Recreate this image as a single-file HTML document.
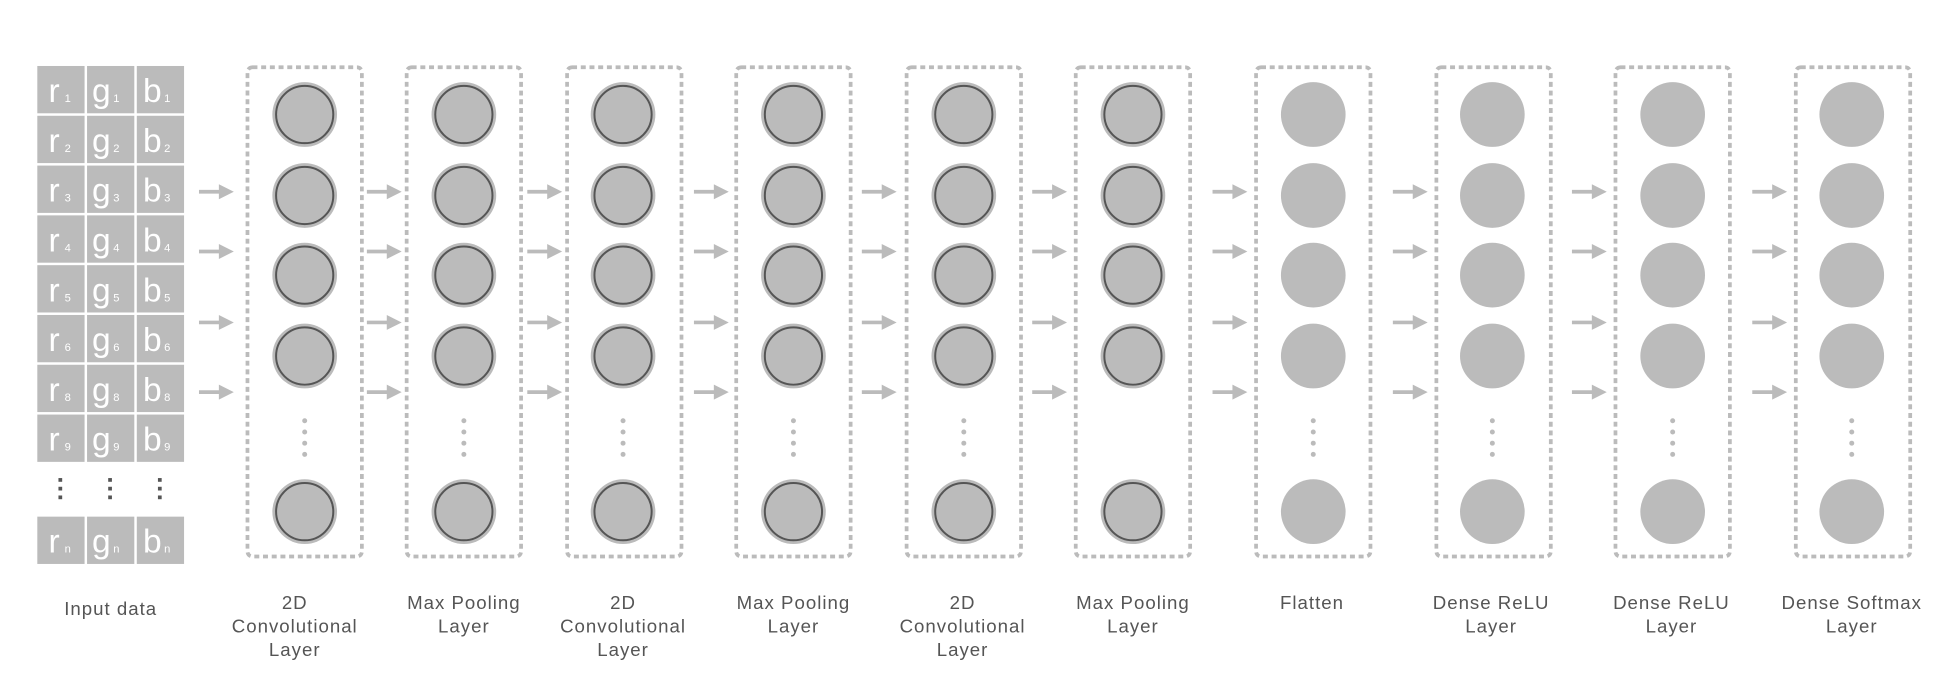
<!DOCTYPE html>
<html><head><meta charset="utf-8"><style>
html,body{margin:0;padding:0;background:#fff;}
svg{display:block;}
text{font-family:"Liberation Sans",sans-serif;}
</style></head><body>
<svg width="1950" height="676" viewBox="0 0 1568 543" preserveAspectRatio="none" xmlns="http://www.w3.org/2000/svg">
<defs>
<g id="rc"><circle r="26" fill="#bbbbbb"/><circle r="23" fill="#bbbbbb" stroke="#555" stroke-width="1.6"/></g>
<g id="pc"><circle r="26" fill="#bbbbbb"/></g>
<g id="ar"><line x1="0" y1="0" x2="18" y2="0" stroke="#bbb" stroke-width="3"/><polygon points="16,-6 28,0 16,6" fill="#bbb"/></g>
<g id="dots"><circle cx="0" cy="0" r="2" fill="#bbb"/><circle cx="0" cy="9" r="2" fill="#bbb"/><circle cx="0" cy="18" r="2" fill="#bbb"/><circle cx="0" cy="27" r="2" fill="#bbb"/></g>
</defs>
<g id="grid" font-size="28" fill="#fff"></g>
<script>
</script>
<!-- input grid -->
<g fill="#bbbbbb">
<rect x="30" y="53" width="38" height="38"/><rect x="70" y="53" width="38" height="38"/><rect x="110" y="53" width="38" height="38"/>
<rect x="30" y="93" width="38" height="38"/><rect x="70" y="93" width="38" height="38"/><rect x="110" y="93" width="38" height="38"/>
<rect x="30" y="133" width="38" height="38"/><rect x="70" y="133" width="38" height="38"/><rect x="110" y="133" width="38" height="38"/>
<rect x="30" y="173" width="38" height="38"/><rect x="70" y="173" width="38" height="38"/><rect x="110" y="173" width="38" height="38"/>
<rect x="30" y="213" width="38" height="38"/><rect x="70" y="213" width="38" height="38"/><rect x="110" y="213" width="38" height="38"/>
<rect x="30" y="253" width="38" height="38"/><rect x="70" y="253" width="38" height="38"/><rect x="110" y="253" width="38" height="38"/>
<rect x="30" y="293" width="38" height="38"/><rect x="70" y="293" width="38" height="38"/><rect x="110" y="293" width="38" height="38"/>
<rect x="30" y="333" width="38" height="38"/><rect x="70" y="333" width="38" height="38"/><rect x="110" y="333" width="38" height="38"/>
<rect x="30" y="415" width="38" height="38"/><rect x="70" y="415" width="38" height="38"/><rect x="110" y="415" width="38" height="38"/>
</g>
<g fill="#fff" font-size="27">
<text x="39" y="82">r<tspan font-size="9" dx="4">1</tspan></text><text x="74" y="82">g<tspan font-size="9" dx="2">1</tspan></text><text x="115" y="82">b<tspan font-size="9" dx="2">1</tspan></text>
<text x="39" y="122">r<tspan font-size="9" dx="4">2</tspan></text><text x="74" y="122">g<tspan font-size="9" dx="2">2</tspan></text><text x="115" y="122">b<tspan font-size="9" dx="2">2</tspan></text>
<text x="39" y="162">r<tspan font-size="9" dx="4">3</tspan></text><text x="74" y="162">g<tspan font-size="9" dx="2">3</tspan></text><text x="115" y="162">b<tspan font-size="9" dx="2">3</tspan></text>
<text x="39" y="202">r<tspan font-size="9" dx="4">4</tspan></text><text x="74" y="202">g<tspan font-size="9" dx="2">4</tspan></text><text x="115" y="202">b<tspan font-size="9" dx="2">4</tspan></text>
<text x="39" y="242">r<tspan font-size="9" dx="4">5</tspan></text><text x="74" y="242">g<tspan font-size="9" dx="2">5</tspan></text><text x="115" y="242">b<tspan font-size="9" dx="2">5</tspan></text>
<text x="39" y="282">r<tspan font-size="9" dx="4">6</tspan></text><text x="74" y="282">g<tspan font-size="9" dx="2">6</tspan></text><text x="115" y="282">b<tspan font-size="9" dx="2">6</tspan></text>
<text x="39" y="322">r<tspan font-size="9" dx="4">8</tspan></text><text x="74" y="322">g<tspan font-size="9" dx="2">8</tspan></text><text x="115" y="322">b<tspan font-size="9" dx="2">8</tspan></text>
<text x="39" y="362">r<tspan font-size="9" dx="4">9</tspan></text><text x="74" y="362">g<tspan font-size="9" dx="2">9</tspan></text><text x="115" y="362">b<tspan font-size="9" dx="2">9</tspan></text>
<text x="39" y="444">r<tspan font-size="9" dx="4">n</tspan></text><text x="74" y="444">g<tspan font-size="9" dx="2">n</tspan></text><text x="115" y="444">b<tspan font-size="9" dx="2">n</tspan></text>
</g>
<g fill="#555">
<rect x="47" y="384" width="3" height="3"/><rect x="47" y="391" width="3" height="3"/><rect x="47" y="398" width="3" height="3"/>
<rect x="87" y="384" width="3" height="3"/><rect x="87" y="391" width="3" height="3"/><rect x="87" y="398" width="3" height="3"/>
<rect x="127" y="384" width="3" height="3"/><rect x="127" y="391" width="3" height="3"/><rect x="127" y="398" width="3" height="3"/>
</g>

<!-- boxes -->
<g fill="none" stroke="#bbb" stroke-width="3" stroke-dasharray="4 3">
<rect x="199" y="54" width="92" height="393" rx="4"/>
<rect x="327" y="54" width="92" height="393" rx="4"/>
<rect x="456" y="54" width="92" height="393" rx="4"/>
<rect x="592" y="54" width="92" height="393" rx="4"/>
<rect x="729" y="54" width="92" height="393" rx="4"/>
<rect x="865" y="54" width="92" height="393" rx="4"/>
<rect x="1010" y="54" width="92" height="393" rx="4"/>
<rect x="1155" y="54" width="92" height="393" rx="4"/>
<rect x="1299" y="54" width="92" height="393" rx="4"/>
<rect x="1444" y="54" width="92" height="393" rx="4"/>
</g>

<!-- ringed circles -->
<g>
<use href="#rc" x="245" y="92"/><use href="#rc" x="245" y="157"/><use href="#rc" x="245" y="221"/><use href="#rc" x="245" y="286"/><use href="#rc" x="245" y="411"/>
<use href="#rc" x="373" y="92"/><use href="#rc" x="373" y="157"/><use href="#rc" x="373" y="221"/><use href="#rc" x="373" y="286"/><use href="#rc" x="373" y="411"/>
<use href="#rc" x="501" y="92"/><use href="#rc" x="501" y="157"/><use href="#rc" x="501" y="221"/><use href="#rc" x="501" y="286"/><use href="#rc" x="501" y="411"/>
<use href="#rc" x="638" y="92"/><use href="#rc" x="638" y="157"/><use href="#rc" x="638" y="221"/><use href="#rc" x="638" y="286"/><use href="#rc" x="638" y="411"/>
<use href="#rc" x="775" y="92"/><use href="#rc" x="775" y="157"/><use href="#rc" x="775" y="221"/><use href="#rc" x="775" y="286"/><use href="#rc" x="775" y="411"/>
<use href="#rc" x="911" y="92"/><use href="#rc" x="911" y="157"/><use href="#rc" x="911" y="221"/><use href="#rc" x="911" y="286"/><use href="#rc" x="911" y="411"/>
<use href="#pc" x="1056" y="92"/><use href="#pc" x="1056" y="157"/><use href="#pc" x="1056" y="221"/><use href="#pc" x="1056" y="286"/><use href="#pc" x="1056" y="411"/>
<use href="#pc" x="1200" y="92"/><use href="#pc" x="1200" y="157"/><use href="#pc" x="1200" y="221"/><use href="#pc" x="1200" y="286"/><use href="#pc" x="1200" y="411"/>
<use href="#pc" x="1345" y="92"/><use href="#pc" x="1345" y="157"/><use href="#pc" x="1345" y="221"/><use href="#pc" x="1345" y="286"/><use href="#pc" x="1345" y="411"/>
<use href="#pc" x="1489" y="92"/><use href="#pc" x="1489" y="157"/><use href="#pc" x="1489" y="221"/><use href="#pc" x="1489" y="286"/><use href="#pc" x="1489" y="411"/>
</g>
<g>
<use href="#dots" x="245" y="338"/><use href="#dots" x="373" y="338"/><use href="#dots" x="501" y="338"/><use href="#dots" x="638" y="338"/><use href="#dots" x="775" y="338"/>
<use href="#dots" x="1056" y="338"/><use href="#dots" x="1200" y="338"/><use href="#dots" x="1345" y="338"/><use href="#dots" x="1489" y="338"/>
</g>

<!-- arrows -->
<g>
<use href="#ar" x="160" y="154"/><use href="#ar" x="160" y="202"/><use href="#ar" x="160" y="259"/><use href="#ar" x="160" y="315"/>
<use href="#ar" x="295" y="154"/><use href="#ar" x="295" y="202"/><use href="#ar" x="295" y="259"/><use href="#ar" x="295" y="315"/>
<use href="#ar" x="424" y="154"/><use href="#ar" x="424" y="202"/><use href="#ar" x="424" y="259"/><use href="#ar" x="424" y="315"/>
<use href="#ar" x="558" y="154"/><use href="#ar" x="558" y="202"/><use href="#ar" x="558" y="259"/><use href="#ar" x="558" y="315"/>
<use href="#ar" x="693" y="154"/><use href="#ar" x="693" y="202"/><use href="#ar" x="693" y="259"/><use href="#ar" x="693" y="315"/>
<use href="#ar" x="830" y="154"/><use href="#ar" x="830" y="202"/><use href="#ar" x="830" y="259"/><use href="#ar" x="830" y="315"/>
<use href="#ar" x="975" y="154"/><use href="#ar" x="975" y="202"/><use href="#ar" x="975" y="259"/><use href="#ar" x="975" y="315"/>
<use href="#ar" x="1120" y="154"/><use href="#ar" x="1120" y="202"/><use href="#ar" x="1120" y="259"/><use href="#ar" x="1120" y="315"/>
<use href="#ar" x="1264" y="154"/><use href="#ar" x="1264" y="202"/><use href="#ar" x="1264" y="259"/><use href="#ar" x="1264" y="315"/>
<use href="#ar" x="1409" y="154"/><use href="#ar" x="1409" y="202"/><use href="#ar" x="1409" y="259"/><use href="#ar" x="1409" y="315"/>
</g>

<!-- labels -->
<g fill="#555" font-size="15" text-anchor="middle" letter-spacing="0.8">
<text x="89" y="494">Input data</text>
<text x="237" y="489">2D</text><text x="237" y="508">Convolutional</text><text x="237" y="527">Layer</text>
<text x="373" y="489">Max Pooling</text><text x="373" y="508">Layer</text>
<text x="501" y="489">2D</text><text x="501" y="508">Convolutional</text><text x="501" y="527">Layer</text>
<text x="638" y="489">Max Pooling</text><text x="638" y="508">Layer</text>
<text x="774" y="489">2D</text><text x="774" y="508">Convolutional</text><text x="774" y="527">Layer</text>
<text x="911" y="489">Max Pooling</text><text x="911" y="508">Layer</text>
<text x="1055" y="489">Flatten</text>
<text x="1199" y="489">Dense ReLU</text><text x="1199" y="508">Layer</text>
<text x="1344" y="489">Dense ReLU</text><text x="1344" y="508">Layer</text>
<text x="1489" y="489">Dense Softmax</text><text x="1489" y="508">Layer</text>
</g>
</svg>
</body></html>
